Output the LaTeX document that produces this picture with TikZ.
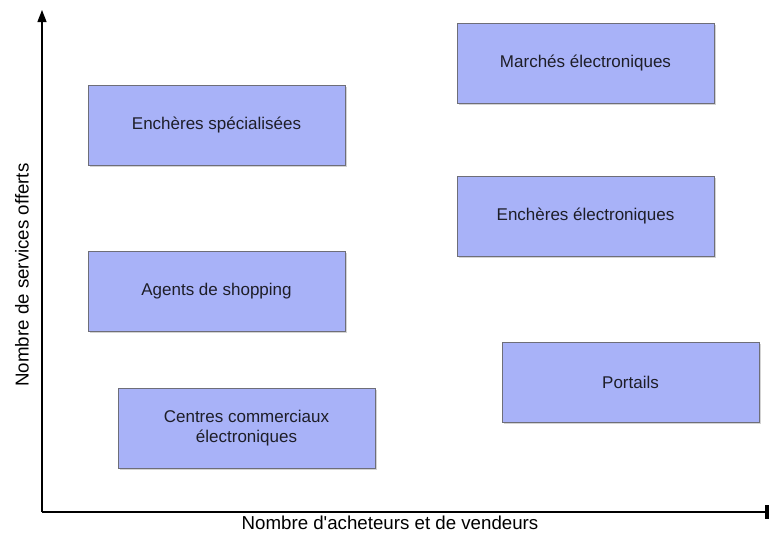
\documentclass[tikz,border=0pt]{standalone}
\usepackage{fontspec}
\setmainfont{Liberation Sans}[Ligatures=TeXOff]
\usetikzlibrary{shadows,arrows.meta}
\definecolor{boxfill}{RGB}{168,178,248}
\definecolor{boxline}{RGB}{110,110,120}
\definecolor{txt}{RGB}{30,30,40}
\begin{document}
\begin{tikzpicture}[x=1pt,y=-1pt,
  box/.style={draw=boxline,line width=0.8pt,fill=boxfill,minimum width=257pt,minimum height=80pt,
    inner sep=0pt,align=center,text=txt,font=\fontsize{17}{20}\selectfont,
    drop shadow={shadow xshift=1.5pt,shadow yshift=-1.5pt,opacity=0.35}},
  axis/.style={line width=1.3pt,black},
  lab/.style={font=\fontsize{18.7}{22}\selectfont,text=black}]
\useasboundingbox (0,0) rectangle (770,533);
\coordinate (o) at (42,512);
\coordinate (ytop) at (42,10);
\coordinate (xend) at (768,512);
\draw[axis,-{Triangle[length=12pt,width=9pt]}] (o) -- (ytop);
\draw[axis] (o) -- (xend);
\fill (765,505) rectangle (769,519);
\node[box] (marches) at (585.5,63.5) {Marchés électroniques};
\node[box] (encspec) at (216.5,125) {Enchères spécialisées};
\node[box] (encelec) at (585.5,216) {Enchères électroniques};
\node[box] (agents) at (216.5,291.5) {Agents de shopping};
\node[box] (portails) at (630.5,382) {Portails};
\node[box] (centres) at (246.5,428) {Centres commerciaux\\électroniques};
\node[lab,rotate=90] (ylab) at (22,275) {Nombre de services offerts};
\node[lab] (xlab) at (390,523) {Nombre d'acheteurs et de vendeurs};
\end{tikzpicture}
\end{document}
